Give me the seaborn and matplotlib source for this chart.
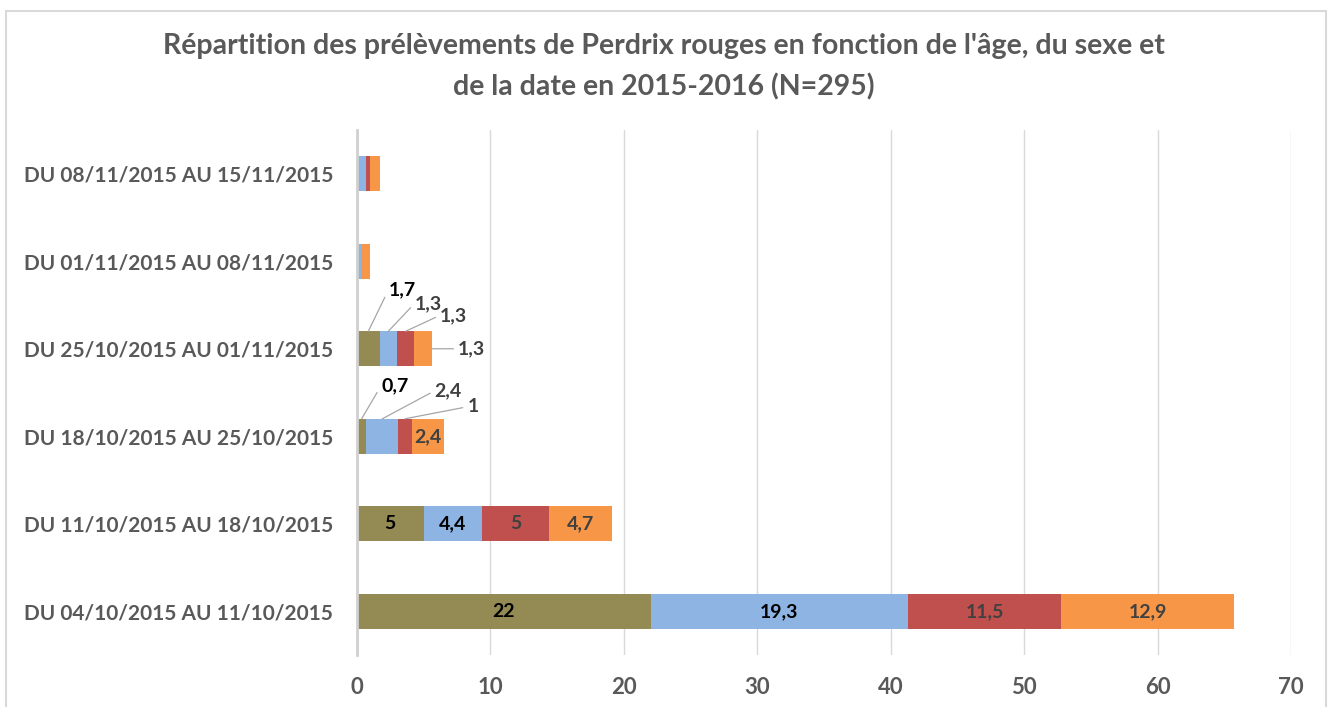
import numpy as np
import pandas as pd
import matplotlib.pyplot as plt
import seaborn as sns
from matplotlib.patches import Rectangle

# --- data (rows listed top to bottom, as in the chart) ---
periodes = ['DU 08/11/2015 AU 15/11/2015', 'DU 01/11/2015 AU 08/11/2015',
            'DU 25/10/2015 AU 01/11/2015', 'DU 18/10/2015 AU 25/10/2015',
            'DU 11/10/2015 AU 18/10/2015', 'DU 04/10/2015 AU 11/10/2015']
serie_1 = [0, 0, 1.7, 0.7, 5, 22]
serie_2 = [0.7, 0.3, 1.3, 2.4, 4.4, 19.3]
serie_3 = [0.3, 0, 1.3, 1, 5, 11.5]
serie_4 = [0.7, 0.7, 1.3, 2.4, 4.7, 12.9]
rows_with_labels = [2, 3, 4, 5]

title = ("Répartition des prélèvements de Perdrix rouges en fonction de l'âge, du sexe et\n"
         "de la date en 2015-2016 (N=295)")

# --- style ---
couleurs = ['#948A54', '#8DB4E2', '#C0504D', '#F79646']
label_colors = ['black', 'black', '#404040', '#404040']
grey = '#595959'

# outside labels with leader lines: (row, serie) -> offset in pixels from anchor
outside = {
    (2, 0): (34, 42), (2, 1): (40, 28), (2, 2): (48, 16), (2, 3): (40, 0),
    (3, 0): (33, 33), (3, 1): (66, 28), (3, 2): (68, 12),
}
outside_colors = ['black', '#404040', '#404040', '#404040']

sns.set_style('white')
plt.rcParams['font.family'] = ['Lato', 'DejaVu Sans']

df = pd.DataFrame({'periode': periodes, 's1': serie_1, 's2': serie_2,
                   's3': serie_3, 's4': serie_4})
cols = ['s1', 's2', 's3', 's4']
cum = df[cols].cumsum(axis=1)

fig = plt.figure(figsize=(13.28, 7.07), dpi=100)
ax = fig.add_axes([0.2688, 0.0735, 0.7033, 0.7426])

# stacked bars: draw the totals first, then the shorter cumulative sums on top
for i in range(3, -1, -1):
    sns.barplot(x=cum[cols[i]], y=df['periode'], color=couleurs[i], width=0.4,
                saturation=1, linewidth=0, orient='h', ax=ax, zorder=3)

# data labels
for r in rows_with_labels:
    for i, c in enumerate(cols):
        val = df.loc[r, c]
        start = cum.loc[r, c] - val
        txt = f'{val:g}'.replace('.', ',')
        if (r, i) in outside:
            dx, dy = outside[(r, i)]
            if dy == 0:
                xy = (cum.loc[r, c], r)
            else:
                xy = (start + val / 2, r - 0.2)
            ax.annotate(txt, xy=xy, xytext=(dx, dy), textcoords='offset pixels',
                        ha='center', va='center', fontsize=14, fontweight='bold',
                        color=outside_colors[i], zorder=5,
                        arrowprops=dict(arrowstyle='-', color='#A6A6A6', lw=0.9,
                                        shrinkA=1, shrinkB=0, relpos=(0, 0.5)))
        else:
            ax.text(start + val / 2, r, txt, ha='center', va='center',
                    fontsize=14, fontweight='bold', color=label_colors[i], zorder=5)

ax.set_xlim(0, 70)
ax.set_ylim(5.5, -0.5)
ax.set_xticks(np.arange(0, 71, 10))
ax.set_xlabel('')
ax.set_ylabel('')
ax.grid(axis='x', color='#D9D9D9', lw=1, zorder=0)
ax.set_axisbelow(True)
for s in ['top', 'right', 'bottom']:
    ax.spines[s].set_visible(False)
ax.spines['left'].set_color('#D0D0D0')
ax.spines['left'].set_linewidth(2)
ax.spines['left'].set_zorder(4)
ax.tick_params(axis='both', length=0, labelsize=15, labelcolor=grey)
ax.tick_params(axis='x', labelsize=16, pad=16)
ax.tick_params(axis='y', pad=17)
for t in ax.get_xticklabels() + ax.get_yticklabels():
    t.set_fontweight('bold')

fig.text(0.5, 0.953, title, ha='center', va='top', fontsize=20.5,
         fontweight='bold', color=grey, linespacing=1.62)

# chart frame
fig.patches.append(Rectangle((0.0045, -0.02), 0.994, 1.0044, transform=fig.transFigure,
                             fill=False, edgecolor='#D9D9D9', lw=1.5))

plt.savefig('out.png', dpi=100)
